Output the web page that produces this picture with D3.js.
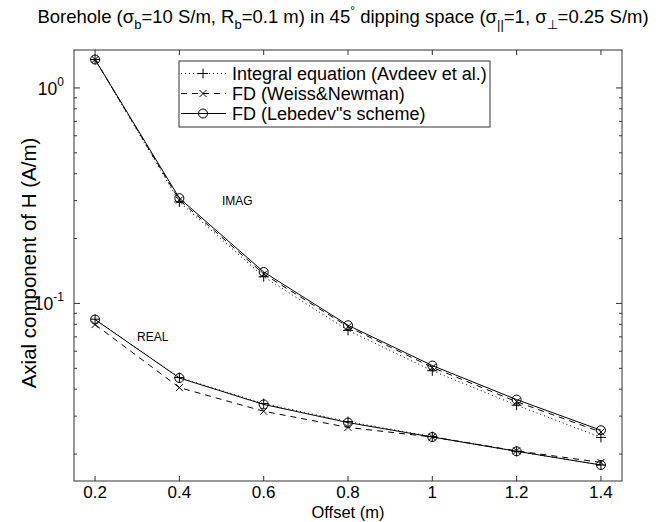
<!DOCTYPE html>
<html lang="en">
<head>
  <meta charset="UTF-8">
  <title>Borehole axial H</title>
  <script src="https://d3js.org/d3.v7.min.js"></script>
  <style>
    body { margin: 0; background: #fff; font-family: "Liberation Sans", Arial, sans-serif; }
    svg text { fill: #000; }
  </style>
</head>
<body>
  <div id="chart"></div>
  <script>
    // offsets (m)
    const offsets = [0.2, 0.4, 0.6, 0.8, 1.0, 1.2, 1.4];

    // IMAG part
    const imagIntegral = [1.355, 0.296, 0.133, 0.075, 0.0487, 0.0337, 0.0239];
    const imagWeiss    = [1.355, 0.302, 0.137, 0.078, 0.0505, 0.0350, 0.0253];
    const imagLebedev  = [1.355, 0.308, 0.140, 0.0792, 0.0515, 0.0358, 0.0258];

    // REAL part
    const realIntegral = [0.0845, 0.0453, 0.0343, 0.0283, 0.0241, 0.0206, 0.0178];
    const realWeiss    = [0.0798, 0.0407, 0.0316, 0.0266, 0.0240, 0.0207, 0.0183];
    const realLebedev  = [0.0842, 0.0451, 0.0340, 0.0280, 0.0240, 0.0206, 0.0178];

    const xTickValues = [0.2, 0.4, 0.6, 0.8, 1, 1.2, 1.4];
    const yMajorTicks = [1, 0.1];
    const yMinorTicks = [0.02, 0.03, 0.04, 0.05, 0.06, 0.07, 0.08, 0.09,
                         0.2, 0.3, 0.4, 0.5, 0.6, 0.7, 0.8, 0.9];

    const W = 663, H = 522;
    const margin = { top: 50, right: 41, bottom: 41, left: 74 };
    const width = W - margin.left - margin.right;
    const height = H - margin.top - margin.bottom;

    const svg = d3.select("#chart").append("svg")
      .attr("width", W)
      .attr("height", H);

    const g = svg.append("g")
      .attr("transform", `translate(${margin.left},${margin.top})`);

    const x = d3.scaleLinear().domain([0.15, 1.45]).range([0, width]);
    const y = d3.scaleLog().domain([0.015, 1.5]).range([height, 0]);

    const axisColor = "#333";

    // frame
    g.append("rect")
      .attr("width", width).attr("height", height)
      .attr("fill", "none").attr("stroke", axisColor).attr("stroke-width", 1);

    // x ticks, bottom + top (inward)
    xTickValues.forEach(v => {
      g.append("line").attr("x1", x(v)).attr("x2", x(v)).attr("y1", height).attr("y2", height - 5)
        .attr("stroke", axisColor);
      g.append("line").attr("x1", x(v)).attr("x2", x(v)).attr("y1", 0).attr("y2", 5)
        .attr("stroke", axisColor);
      g.append("text")
        .attr("x", x(v)).attr("y", height + 17)
        .attr("text-anchor", "middle")
        .attr("font-size", "17px")
        .text(d3.format("")(v));
    });

    // y ticks, left + right
    yMajorTicks.forEach(v => {
      g.append("line").attr("x1", 0).attr("x2", 6).attr("y1", y(v)).attr("y2", y(v)).attr("stroke", axisColor);
      g.append("line").attr("x1", width).attr("x2", width - 6).attr("y1", y(v)).attr("y2", y(v)).attr("stroke", axisColor);
      const t = g.append("text")
        .attr("x", -10).attr("y", y(v) + 7)
        .attr("text-anchor", "end")
        .attr("font-size", "17.5px");
      t.append("tspan").text("10");
      t.append("tspan").attr("dy", -9).attr("font-size", "12px").text(Math.round(Math.log10(v)));
    });
    yMinorTicks.forEach(v => {
      g.append("line").attr("x1", 0).attr("x2", 3).attr("y1", y(v)).attr("y2", y(v)).attr("stroke", axisColor);
      g.append("line").attr("x1", width).attr("x2", width - 3).attr("y1", y(v)).attr("y2", y(v)).attr("stroke", axisColor);
    });

    // series
    const series = [
      { name: "Integral equation (Avdeev et al.)", dash: "1,3", marker: "plus", sets: [imagIntegral, realIntegral] },
      { name: "FD (Weiss&Newman)", dash: "6,5", marker: "cross", sets: [imagWeiss, realWeiss] },
      { name: "FD (Lebedev\"s scheme)", dash: null, marker: "circle", sets: [imagLebedev, realLebedev] }
    ];

    const line = d3.line()
      .x((d, i) => x(offsets[i]))
      .y(d => y(d));

    function drawMarker(sel, type, cx, cy) {
      if (type === "plus") {
        sel.append("path")
          .attr("d", `M${cx - 5},${cy}H${cx + 5}M${cx},${cy - 5}V${cy + 5}`)
          .attr("stroke", "#000").attr("stroke-width", 1).attr("fill", "none");
      } else if (type === "cross") {
        sel.append("path")
          .attr("d", `M${cx - 3.5},${cy - 3.5}L${cx + 3.5},${cy + 3.5}M${cx - 3.5},${cy + 3.5}L${cx + 3.5},${cy - 3.5}`)
          .attr("stroke", "#000").attr("stroke-width", 1).attr("fill", "none");
      } else {
        sel.append("circle")
          .attr("cx", cx).attr("cy", cy).attr("r", 4.5)
          .attr("stroke", "#000").attr("stroke-width", 1).attr("fill", "none");
      }
    }

    series.forEach(s => {
      s.sets.forEach(vals => {
        g.append("path")
          .datum(vals)
          .attr("d", line)
          .attr("fill", "none")
          .attr("stroke", "#000")
          .attr("stroke-width", 1)
          .attr("stroke-dasharray", s.dash);
        vals.forEach((v, i) => drawMarker(g, s.marker, x(offsets[i]), y(v)));
      });
    });

    // annotations
    g.append("text").attr("x", 222 - margin.left).attr("y", 205 - margin.top)
      .attr("font-size", "12px").text("IMAG");
    g.append("text").attr("x", 137 - margin.left).attr("y", 341 - margin.top)
      .attr("font-size", "12px").text("REAL");

    // legend
    const lg = svg.append("g").attr("transform", "translate(179,61)");
    lg.append("rect").attr("width", 311).attr("height", 66)
      .attr("fill", "#fff").attr("stroke", axisColor).attr("stroke-width", 1);
    series.forEach((s, i) => {
      const ly = 12.5 + i * 20;
      lg.append("line").attr("x1", 2).attr("x2", 47).attr("y1", ly).attr("y2", ly)
        .attr("stroke", "#000").attr("stroke-dasharray", s.dash);
      drawMarker(lg, s.marker, 24, ly);
      lg.append("text").attr("x", 53).attr("y", ly + 6.5)
        .attr("font-size", "18px").text(s.name);
    });

    // axis labels
    svg.append("text")
      .attr("x", margin.left + width / 2).attr("y", H - 4)
      .attr("text-anchor", "middle").attr("font-size", "16.5px")
      .text("Offset (m)");

    svg.append("text")
      .attr("transform", "translate(36,263) rotate(-90)")
      .attr("text-anchor", "middle").attr("font-size", "20.5px")
      .text("Axial component of H (A/m)");

    // title with subscripts
    const title = svg.append("text")
      .attr("x", 343).attr("y", 23)
      .attr("text-anchor", "middle").attr("font-size", "18.5px");
    const parts = [
      ["Borehole (σ", 0], ["b", 1], ["=10 S/m, R", -1], ["b", 1], ["=0.1 m) in 45", -1],
      ["°", -2], [" dipping space (σ", 2], ["||", 1], ["=1, σ", -1], ["⊥", 1], ["=0.25 S/m)", -1]
    ];
    parts.forEach(([txt, kind]) => {
      const sp = title.append("tspan").text(txt);
      if (kind === 1) sp.attr("dy", 6).attr("font-size", "13px");
      else if (kind === -1) sp.attr("dy", -6);
      else if (kind === -2) sp.attr("dy", -8).attr("font-size", "12px");
      else if (kind === 2) sp.attr("dy", 8);
    });
  </script>
</body>
</html>
